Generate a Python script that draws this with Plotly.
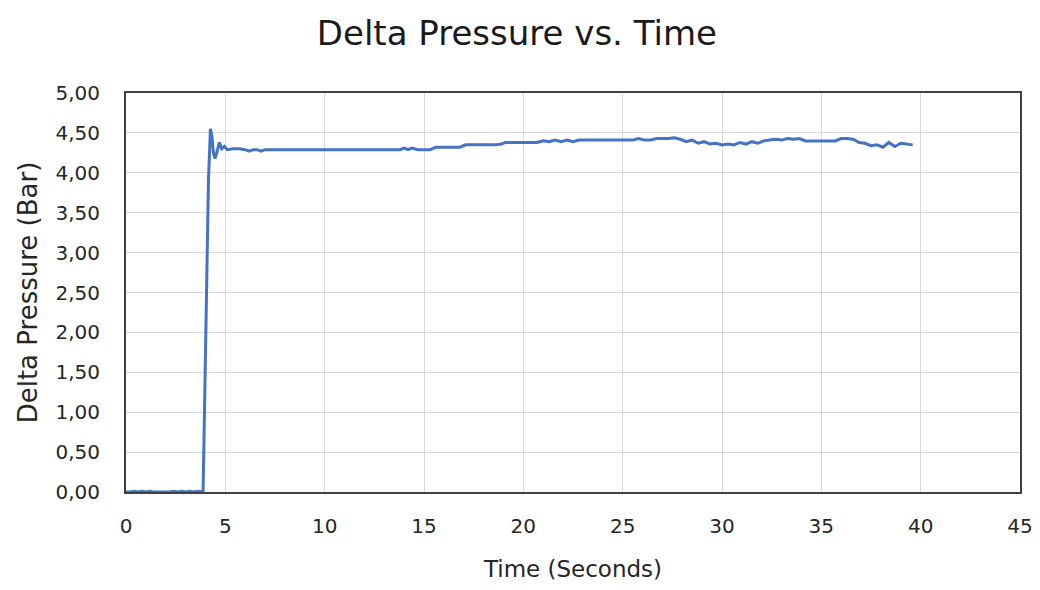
import plotly.graph_objects as go

time_s = [
    0.0, 0.2, 0.4, 0.6, 0.8, 1.0, 1.2, 1.4, 1.6, 1.8, 2.0, 2.2, 2.4, 2.6, 2.8, 3.0, 3.2, 3.4, 3.6, 3.8,
    3.88, 3.95, 4.05, 4.15, 4.25, 4.33, 4.40, 4.48, 4.58, 4.70, 4.82, 4.95, 5.1, 5.4,
    5.7, 6.0, 6.2, 6.4, 6.6, 6.8, 7.0, 7.5, 8.0, 8.5, 9.0, 9.5, 10.0, 10.5, 11.0, 11.5, 12.0, 12.5,
    13.0, 13.5, 13.8, 14.0, 14.2, 14.4, 14.7, 15.0, 15.3, 15.6, 15.9, 16.2, 16.5, 16.8, 17.1, 17.4,
    17.7, 18.0, 18.3, 18.6, 18.9, 19.1, 19.3, 19.6, 20.0, 20.4, 20.7, 21.0, 21.3, 21.6, 21.9, 22.2,
    22.5, 22.8, 23.1, 23.5, 24.0, 24.5, 25.0, 25.5, 25.8, 26.1, 26.4, 26.7, 27.0, 27.3, 27.6, 27.9,
    28.2, 28.5, 28.8, 29.1, 29.4, 29.7, 30.0, 30.3, 30.6, 30.9, 31.2, 31.5, 31.8, 32.1, 32.4, 32.7,
    33.0, 33.3, 33.6, 33.9, 34.2, 34.5, 34.8, 35.1, 35.4, 35.7, 36.0, 36.3, 36.6, 36.9, 37.2, 37.5,
    37.8, 38.1, 38.4, 38.7, 39.0, 39.3, 39.6,
]

delta_pressure = [
    0.00, 0.00, 0.01, 0.00, 0.01, 0.00, 0.01, 0.00, 0.00, 0.00, 0.00, 0.00, 0.01, 0.00, 0.01, 0.00, 0.01, 0.00, 0.01, 0.00,
    0.00, 1.00, 2.60, 3.90, 4.55, 4.45, 4.25, 4.18, 4.26, 4.38, 4.30, 4.33, 4.29, 4.30,
    4.30, 4.29, 4.27, 4.29, 4.29, 4.27, 4.29, 4.29, 4.29, 4.29, 4.29, 4.29, 4.29, 4.29, 4.29, 4.29, 4.29, 4.29,
    4.29, 4.29, 4.29, 4.31, 4.29, 4.31, 4.29, 4.29, 4.29, 4.32, 4.32, 4.32, 4.32, 4.32, 4.35, 4.35,
    4.35, 4.35, 4.35, 4.35, 4.36, 4.38, 4.38, 4.38, 4.38, 4.38, 4.38, 4.40, 4.39, 4.41, 4.39, 4.41,
    4.39, 4.41, 4.41, 4.41, 4.41, 4.41, 4.41, 4.41, 4.43, 4.41, 4.41, 4.43, 4.43, 4.43, 4.44, 4.42,
    4.39, 4.41, 4.37, 4.39, 4.36, 4.37, 4.35, 4.36, 4.35, 4.38, 4.36, 4.39, 4.37, 4.40, 4.41, 4.42,
    4.41, 4.43, 4.42, 4.43, 4.40, 4.40, 4.40, 4.40, 4.40, 4.40, 4.43, 4.43, 4.42, 4.38, 4.37, 4.34,
    4.35, 4.32, 4.38, 4.33, 4.37, 4.36, 4.35,
]

x_ticks = [0, 5, 10, 15, 20, 25, 30, 35, 40, 45]
y_ticks = [0.0, 0.5, 1.0, 1.5, 2.0, 2.5, 3.0, 3.5, 4.0, 4.5, 5.0]

FONT = "DejaVu Sans, sans-serif"

fig = go.Figure()
fig.add_trace(go.Scatter(
    x=time_s, y=delta_pressure, mode="lines",
    line=dict(color="#4472C4", width=3),
    showlegend=False,
))

fig.update_layout(
    width=1040, height=590,
    margin=dict(l=126, r=20, t=93, b=98),
    paper_bgcolor="white", plot_bgcolor="white",
    separators=", ",
    font=dict(family=FONT, color="#262626"),
    title=dict(text="Delta Pressure vs. Time", x=0.497, xanchor="center",
               y=0.944, yanchor="middle",
               font=dict(family=FONT, size=34, color="#1a1a1a")),
)

fig.update_xaxes(
    range=[0, 45], tickvals=x_ticks, ticktext=[str(v) for v in x_ticks],
    showgrid=True, gridcolor="#d9d9d9", gridwidth=1,
    showline=True, linecolor="#404040", linewidth=2, mirror=True,
    ticks="", ticklabelstandoff=15, automargin=False,
    tickfont=dict(size=20, color="#262626"),
    title=dict(text="Time (Seconds)", font=dict(size=23, color="#262626"), standoff=24),
    zeroline=False,
)
fig.update_yaxes(
    range=[0, 5], tickvals=y_ticks, tickformat=".2f",
    showgrid=True, gridcolor="#d9d9d9", gridwidth=1,
    showline=True, linecolor="#404040", linewidth=2, mirror=True,
    ticks="", ticklabelstandoff=20, automargin=False,
    tickfont=dict(size=20, color="#262626"),
    title=dict(text="Delta Pressure (Bar)", font=dict(size=26, color="#262626"), standoff=10),
    zeroline=False,
)

fig.write_html("out.html", config={"displayModeBar": False},
               post_script="document.body.style.margin='0';")
